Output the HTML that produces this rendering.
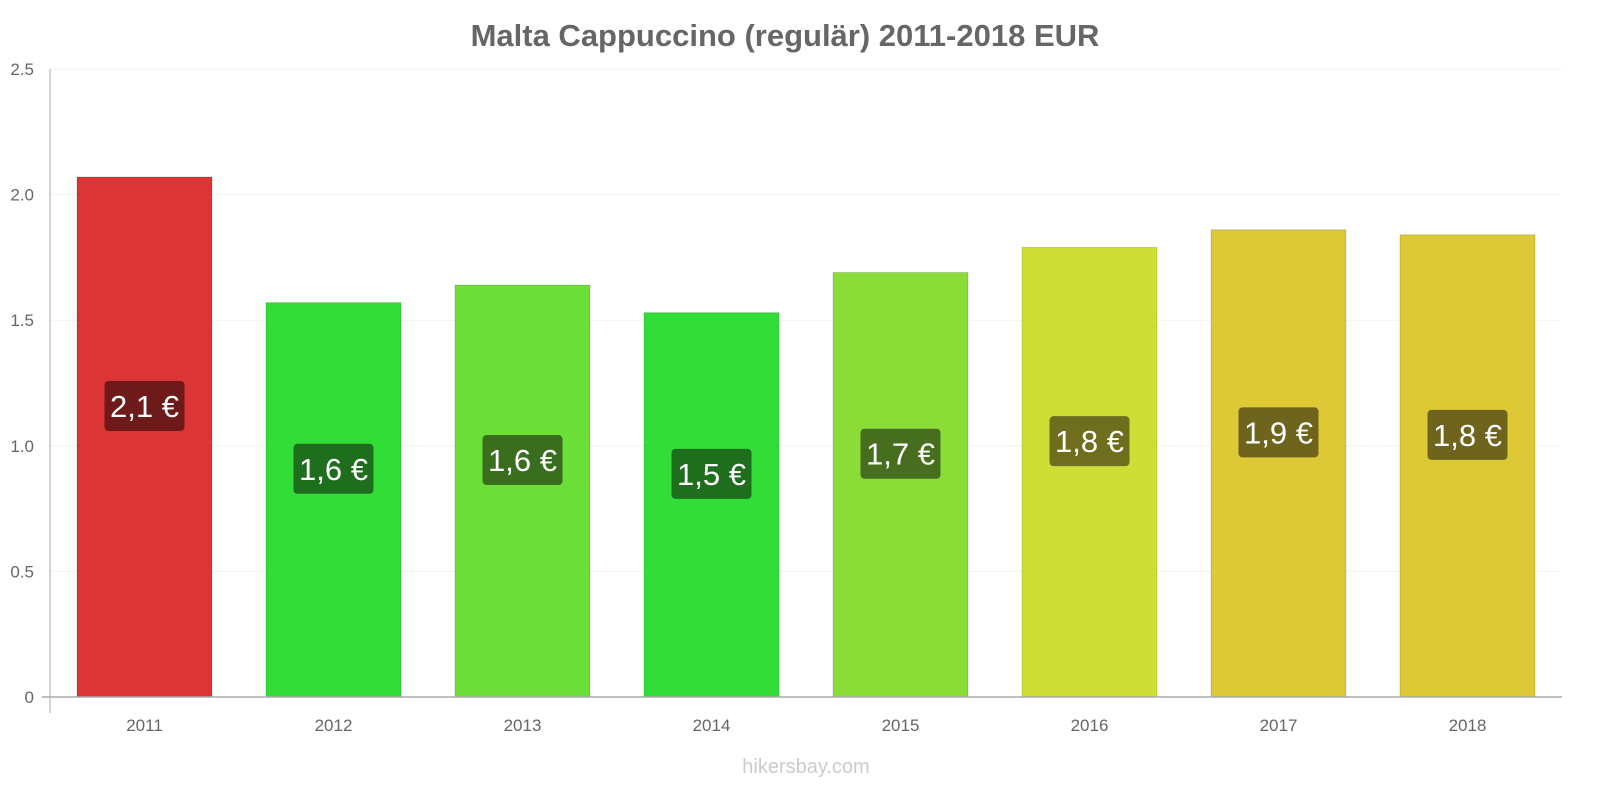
<!DOCTYPE html>
<html><head><meta charset="utf-8"><style>
body{margin:0;background:#fff;font-family:"Liberation Sans",sans-serif}
</style></head><body>
<svg id="c" width="1600" height="800" xmlns="http://www.w3.org/2000/svg">
<text x="785" y="46" text-anchor="middle" font-size="31" font-weight="bold" fill="#666">Malta Cappuccino (regulär) 2011-2018 EUR</text>
<text x="806" y="773" text-anchor="middle" font-size="20" fill="#ccc">hikersbay.com</text>
<g id="g"></g>
</svg>
<script>
const categories=["2011","2012","2013","2014","2015","2016","2017","2018"];
const values=[2.07,1.57,1.64,1.53,1.69,1.79,1.86,1.84];
const labels=["2,1 €","1,6 €","1,6 €","1,5 €","1,7 €","1,8 €","1,9 €","1,8 €"];
const fills=["#dc3535","#33dd38","#6bde38","#33dd38","#8cdc38","#cfde35","#dcc935","#dcc935"];
const labelBgs=["#6e1a1a","#1e6e1e","#3a6e1e","#1e6e1e","#466e1e","#6e6e1e","#6e641e","#6e641e"];
const ticks=[0,0.5,1.0,1.5,2.0,2.5];
const tickLabels=["0","0.5","1.0","1.5","2.0","2.5"];
const NS="http://www.w3.org/2000/svg",g=document.getElementById('g');
const x0=50,x1=1562,y0=697,yTop=69,ymax=2.5;
const y=v=>y0-(y0-yTop)*v/ymax;
const band=(x1-x0)/categories.length;
const xc=i=>x0+band*(i+0.5);
function mk(t,a){const e=document.createElementNS(NS,t);for(const k in a)e.setAttribute(k,a[k]);g.appendChild(e);return e;}
ticks.forEach((t,i)=>{
 if(t>0){const l=mk('line',{x1:x0,x2:x1,y1:y(t),y2:y(t),stroke:'#f2f2f2'});
 
 }
 const tx=mk('text',{x:34,y:y(t)+6,'text-anchor':'end','font-size':17,fill:'#666'});tx.textContent=tickLabels[i];
 
 
});
values.forEach((v,i)=>{
 const w=135,top=y(v);
 const r=mk('rect',{x:xc(i)-w/2,y:top,width:w,height:y0-top,fill:fills[i],stroke:'rgba(0,0,0,0.15)'});
 
 
 const cy=(top+y0)/2-31;
 const b=mk('rect',{x:xc(i)-40,y:cy-25,width:80,height:50,rx:4,fill:labelBgs[i]});
 
 
 const t=mk('text',{x:xc(i),y:cy+11,'text-anchor':'middle','font-size':31,fill:'#fff'});t.textContent=labels[i];
 
 
 const c=mk('text',{x:xc(i),y:731,'text-anchor':'middle','font-size':17,fill:'#666'});c.textContent=categories[i];
 
 
});
const ya=mk('line',{x1:x0,x2:x0,y1:yTop,y2:713,stroke:'#aaa'});


const xa=mk('line',{x1:x0-8,x2:x1,y1:y0,y2:y0,stroke:'#aaa','stroke-width':1.5});


</script>
</body></html>
